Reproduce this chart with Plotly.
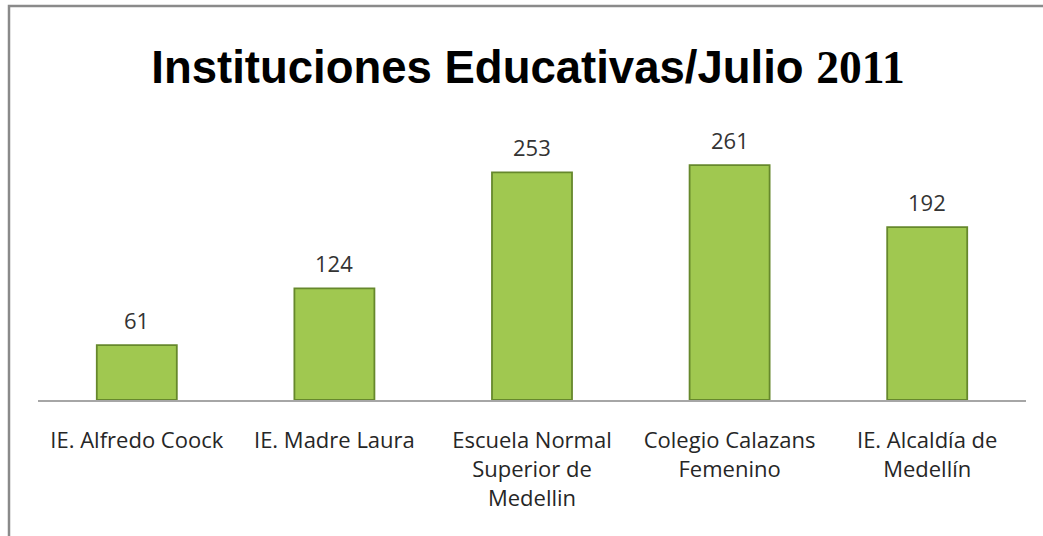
import plotly.graph_objects as go

categories = ["IE. Alfredo Coock", "IE. Madre Laura", "Escuela Normal<br>Superior de<br>Medellin",
              "Colegio Calazans<br>Femenino", "IE. Alcaldía de<br>Medellín"]
values = [61, 124, 253, 261, 192]

W, H = 1043, 536
ML, MR, MT, MB = 38, 17, 130, 136
LABEL_FONT = "Open Sans, Noto Sans, sans-serif"

fig = go.Figure()
fig.add_trace(go.Bar(
    x=categories, y=values, width=0.405,
    marker=dict(color="#a0c850", line=dict(color="#66882c", width=1.8)),
    showlegend=False, hoverinfo="x+y",
))

for c, v in zip(categories, values):
    fig.add_annotation(x=c, y=v, text=str(v), showarrow=False, yanchor="middle",
                       yshift=25, font=dict(family=LABEL_FONT, size=22, color="#333333"))

pw = W - ML - MR
ph = H - MT - MB
fig.add_shape(type="rect", xref="paper", yref="paper",
              x0=(9 - ML) / pw, x1=1.2, y0=-1.0, y1=(H - MB - 6) / ph,
              line=dict(color="#8a8a8a", width=2.5), fillcolor="rgba(0,0,0,0)", layer="below")

fig.update_layout(
    width=W, height=H,
    margin=dict(l=ML, r=MR, t=MT, b=MB, autoexpand=False),
    paper_bgcolor="white", plot_bgcolor="white",
    title=dict(
        text="Instituciones Educativas/Julio <span style='font-family:Liberation Serif'>2011</span>",
        font=dict(family="Liberation Sans, Arial", size=45.5, color="black", weight="bold"),
        x=528 / W, xanchor="center", y=1 - 67 / H, yanchor="middle", yref="container",
        automargin=False,
    ),
    xaxis=dict(showline=True, linecolor="#a6a6a6", linewidth=2, ticks="", showgrid=False,
               tickfont=dict(family=LABEL_FONT, size=22, color="#262626"),
               ticklabelstandoff=20, fixedrange=True, automargin=False),
    yaxis=dict(range=[0, 300], visible=False, showgrid=False, fixedrange=True, automargin=False),
    bargap=0.595,
)

fig.write_html("out.html", config={"displayModeBar": False},
               post_script="document.body.style.margin='0';document.body.style.overflow='hidden';")
